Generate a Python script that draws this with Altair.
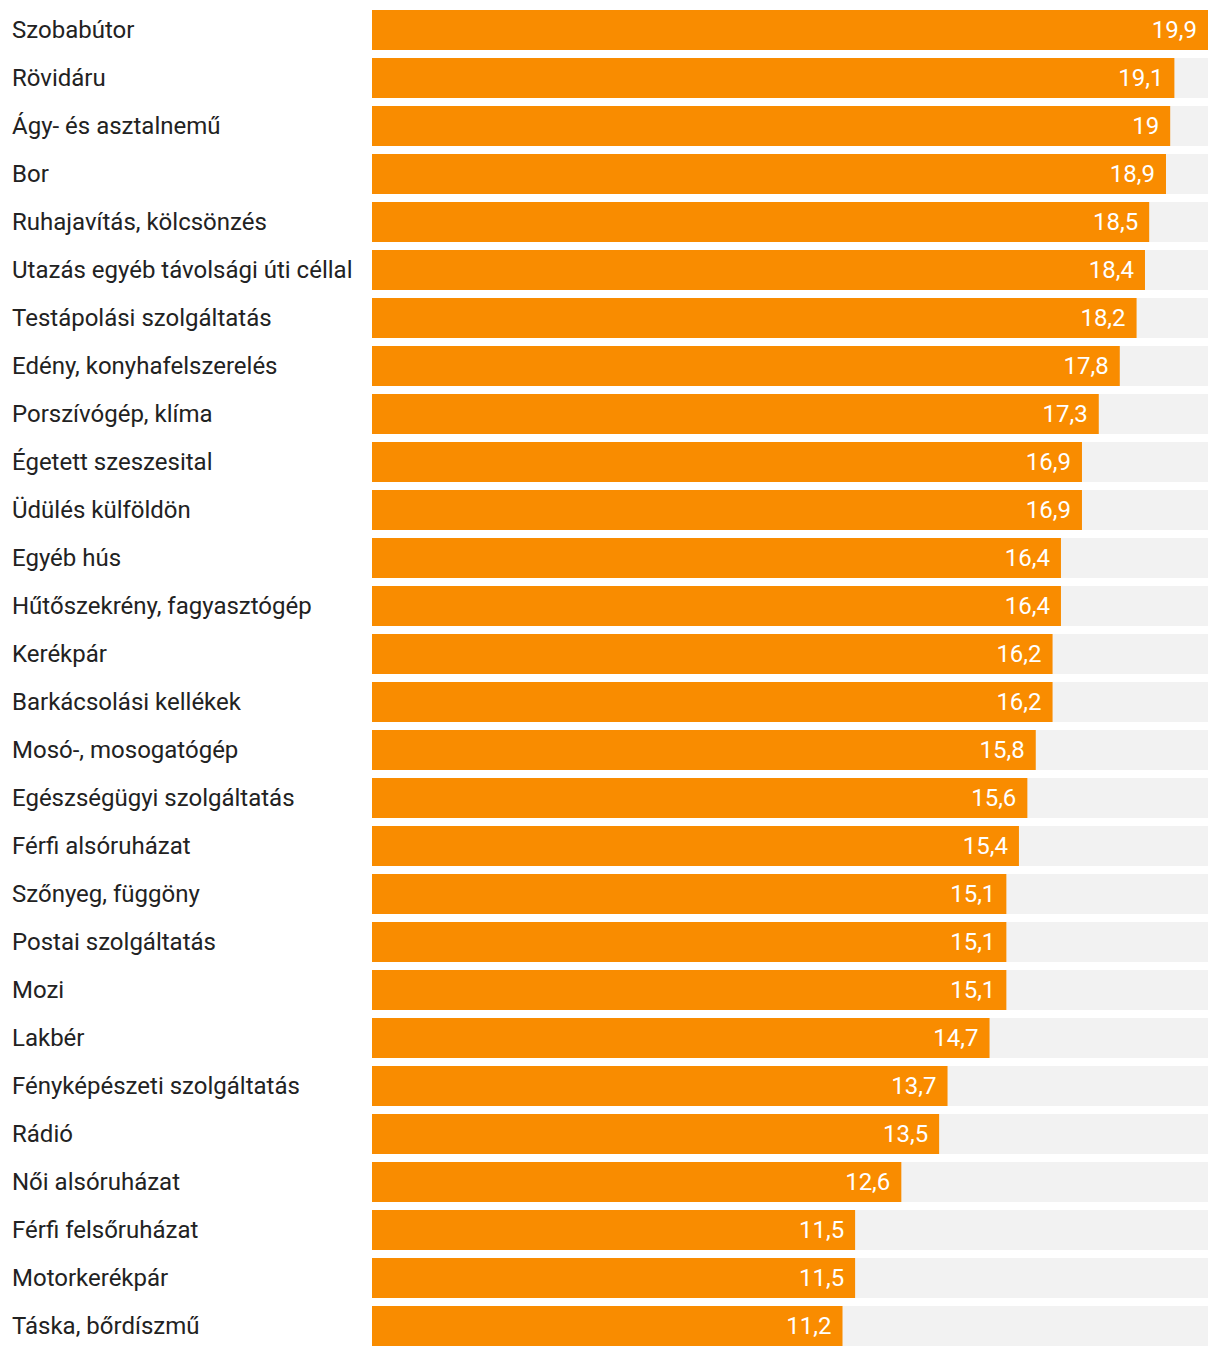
import altair as alt
import pandas as pd

categories = [
    "Szobabútor", "Rövidáru", "Ágy- és asztalnemű", "Bor", "Ruhajavítás, kölcsönzés",
    "Utazás egyéb távolsági úti céllal", "Testápolási szolgáltatás", "Edény, konyhafelszerelés",
    "Porszívógép, klíma", "Égetett szeszesital", "Üdülés külföldön", "Egyéb hús",
    "Hűtőszekrény, fagyasztógép", "Kerékpár", "Barkácsolási kellékek", "Mosó-, mosogatógép",
    "Egészségügyi szolgáltatás", "Férfi alsóruházat", "Szőnyeg, függöny", "Postai szolgáltatás",
    "Mozi", "Lakbér", "Fényképészeti szolgáltatás", "Rádió", "Női alsóruházat",
    "Férfi felsőruházat", "Motorkerékpár", "Táska, bőrdíszmű",
]
values = [19.9, 19.1, 19, 18.9, 18.5, 18.4, 18.2, 17.8, 17.3, 16.9, 16.9, 16.4, 16.4, 16.2,
          16.2, 15.8, 15.6, 15.4, 15.1, 15.1, 15.1, 14.7, 13.7, 13.5, 12.6, 11.5, 11.5, 11.2]

df = pd.DataFrame({
    "cat": categories,
    "val": values,
    "lbl": [f"{v:g}".replace(".", ",") for v in values],
    "maxv": [max(values)] * len(values),
})

FONT = "Roboto"
y = alt.Y("cat:N", sort=categories, axis=None,
          scale=alt.Scale(paddingInner=1/6, paddingOuter=0))
xs = alt.Scale(domain=[0, max(values)], nice=False, zero=True)

bg = alt.Chart(df).mark_bar(color="#f2f2f2").encode(
    y=y, x=alt.X("maxv:Q", scale=xs, axis=None)
)
bars = alt.Chart(df).mark_bar(color="#f98c00").encode(
    y=y, x=alt.X("val:Q", scale=xs, axis=None)
)
vals = alt.Chart(df).mark_text(color="white", align="right", baseline="middle",
                               dx=-11, dy=1, font=FONT, fontSize=24).encode(
    y=y, x=alt.X("val:Q", scale=xs, axis=None), text="lbl:N"
)
labels = alt.Chart(df).mark_text(color="#222222", align="left", baseline="middle",
                                 dy=1, font=FONT, fontSize=24).encode(
    y=y, x=alt.value(-360), text="cat:N"
)

chart = alt.layer(bg, bars, vals, labels).properties(
    width=836, height=1336,
    padding={"left": 364, "top": 2, "right": 0, "bottom": 0},
    autosize=alt.AutoSizeParams(type="none"),
).configure_view(stroke=None)

chart.save("out.html", embed_options={"renderer": "svg", "actions": False})
